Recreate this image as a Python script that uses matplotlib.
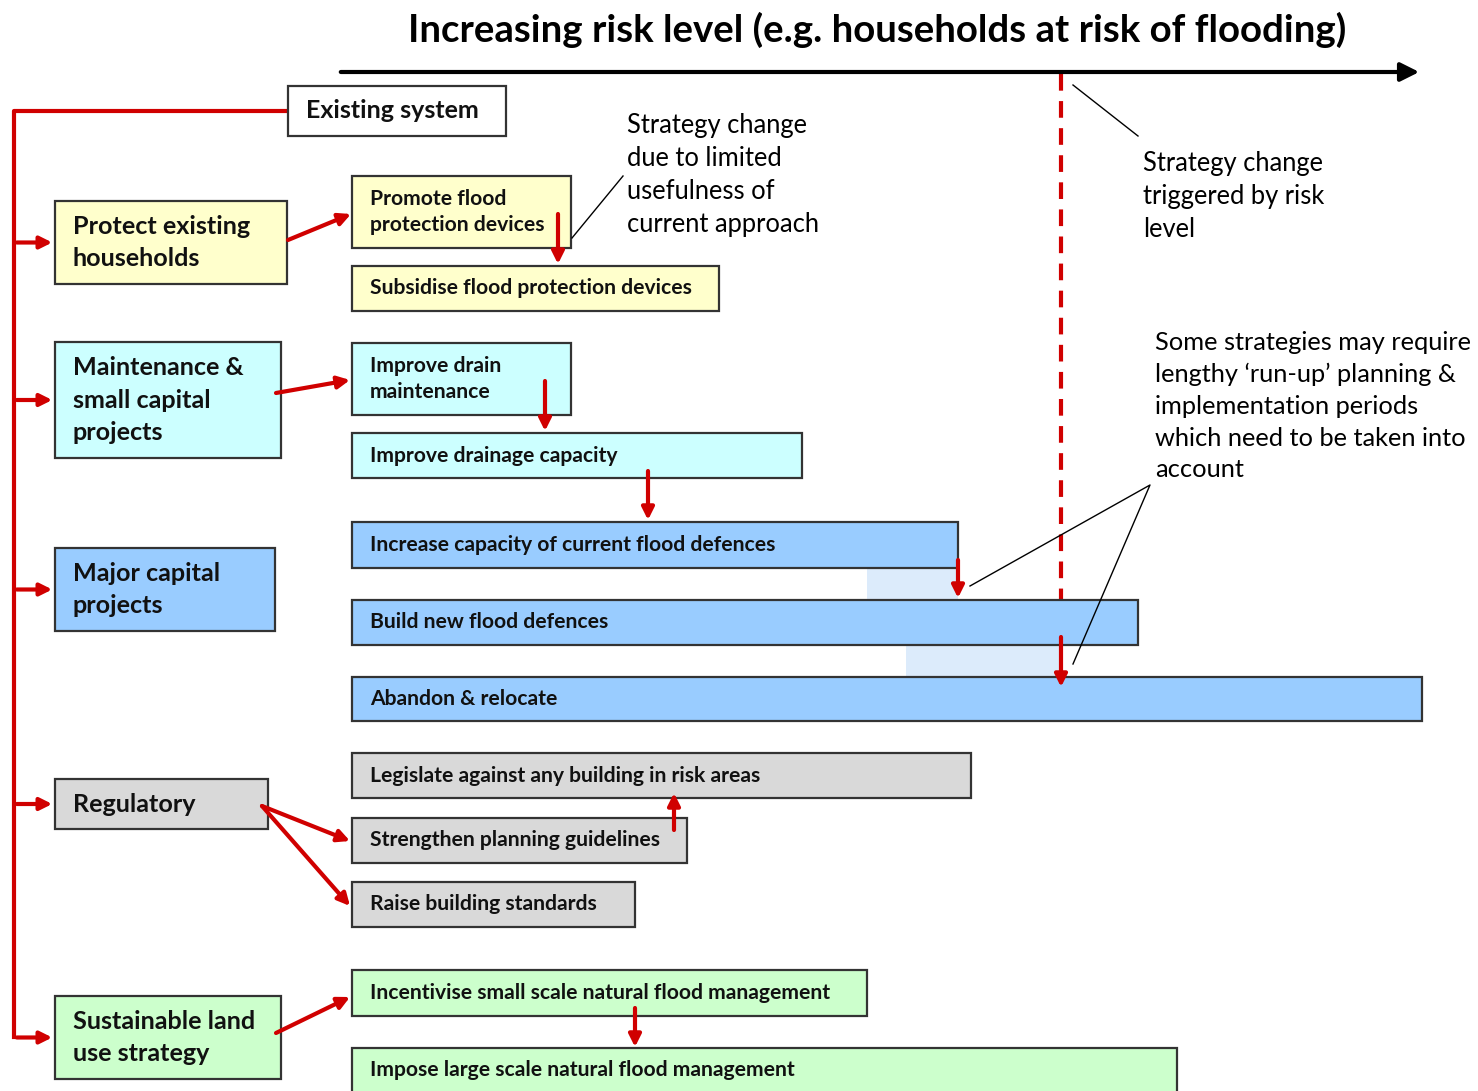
import matplotlib.pyplot as plt
from matplotlib.patches import Rectangle

plt.rcParams['font.family'] = ['Lato', 'DejaVu Sans']

W, H = 1478, 1091

# categories (left column) and their options
groups = ["Protect existing\nhouseholds", "Maintenance &\nsmall capital\nprojects",
          "Major capital\nprojects", "Regulatory", "Sustainable land\nuse strategy"]
group_cols = ["#FFFFCC", "#CCFFFF", "#99CCFF", "#D9D9D9", "#CCFFCC"]
group_box = [(55, 201, 287, 284), (55, 342, 281, 458), (55, 548, 275, 631),
             (55, 779, 268, 829), (55, 996, 281, 1079)]

options = ["Promote flood\nprotection devices", "Subsidise flood protection devices",
           "Improve drain\nmaintenance", "Improve drainage capacity",
           "Increase capacity of current flood defences", "Build new flood defences",
           "Abandon & relocate",
           "Legislate against any building in risk areas", "Strengthen planning guidelines",
           "Raise building standards",
           "Incentivise small scale natural flood management",
           "Impose large scale natural flood management"]
option_grp = [0, 0, 1, 1, 2, 2, 2, 3, 3, 3, 4, 4]
option_box = [(352, 176, 571, 248), (352, 266, 719, 311), (352, 343, 571, 415),
              (352, 433, 802, 478), (352, 522, 958, 568), (352, 600, 1138, 645),
              (352, 677, 1422, 721), (352, 753, 971, 798), (352, 818, 687, 863),
              (352, 882, 635, 927), (352, 970, 867, 1016), (352, 1048, 1100, 1100)]
option_box[-1] = (352, 1048, 1177, 1100)

# run-up periods (pale bands)
runup = [(867, 568, 958, 600), (906, 645, 1060, 677)]

# red arrows between boxes
arrows = [((288, 240), (351, 214)), ((558, 214), (558, 264)),
          ((276, 393), (350, 380)), ((545, 381), (545, 431)),
          ((648, 471), (648, 520)), ((958, 560), (958, 598)),
          ((1061, 637), (1061, 687)),
          ((262, 806), (350, 841)), ((262, 806), (350, 906)),
          ((674, 830), (674, 793)),
          ((276, 1033), (350, 997)), ((635, 1008), (635, 1047))]

fig = plt.figure(figsize=(W / 100, H / 100), dpi=100)
ax = fig.add_axes([0, 0, 1, 1])
ax.set_xlim(0, W)
ax.set_ylim(H, 0)
ax.axis('off')

def box(b, fc, txt, size, pad=18, ls=1.3):
    x0, y0, x1, y1 = b
    ax.add_patch(Rectangle((x0, y0), x1 - x0, y1 - y0, fc=fc, ec="#333333", lw=1.6, zorder=2))
    yc = (y0 + min(y1, H)) / 2
    ax.text(x0 + pad, yc, txt, fontsize=size, fontweight='bold', va='center', ha='left',
            linespacing=ls, zorder=3, color="#111111")

for x0, y0, x1, y1 in runup:
    ax.add_patch(Rectangle((x0, y0), x1 - x0, y1 - y0, fc="#DCEBFB", ec='none', zorder=1))

for g, c, b in zip(groups, group_cols, group_box):
    box(b, c, g, 18.1, ls=1.48)
for o, gi, b in zip(options, option_grp, option_box):
    box(b, group_cols[gi], o, 15.2, ls=1.43)

box((288, 86, 506, 136), "white", "Existing system", 18)

# title and risk axis
ax.text(877, 30, "Increasing risk level (e.g. households at risk of flooding)",
        fontsize=27.6, fontweight='bold', ha='center', va='center')
ax.annotate("", xy=(1422, 72), xytext=(338, 72),
            arrowprops=dict(arrowstyle='-|>', color='black', lw=3, mutation_scale=28))

# risk threshold
ax.plot([1061, 1061], [74, 600], color="#D00000", lw=3, ls=(0, (4, 2.5)), zorder=1)

# red tree on the left
red = "#D00000"
ax.plot([14, 14, 288], [1037, 111, 111], color=red, lw=3, zorder=1)
for b in group_box:
    yc = (b[1] + b[3]) / 2
    ax.annotate("", xy=(b[0], yc), xytext=(14, yc),
                arrowprops=dict(arrowstyle='-|>', color=red, lw=3, mutation_scale=18))

for (x0, y0), (x1, y1) in arrows:
    ax.annotate("", xy=(x1, y1), xytext=(x0, y0),
                arrowprops=dict(arrowstyle='-|>', color=red, lw=3, mutation_scale=18,
                                shrinkA=0, shrinkB=0), zorder=4)

# notes
ax.plot([572, 623], [238, 176], color='black', lw=1)
ax.plot([1073, 1138], [85, 136], color='black', lw=1)
ax.plot([970, 1150, 1073], [586, 485, 664], color='black', lw=1)

ax.text(627, 113, "Strategy change\ndue to limited\nusefulness of\ncurrent approach",
        fontsize=18.4, va='top', ha='left', linespacing=1.4)
ax.text(1143, 151, "Strategy change\ntriggered by risk\nlevel",
        fontsize=18.4, va='top', ha='left', linespacing=1.4)
ax.text(1155, 331, "Some strategies may require\nlengthy \u2018run-up\u2019 planning &\n"
        "implementation periods\nwhich need to be taken into\naccount",
        fontsize=18.3, va='top', ha='left', linespacing=1.46)

fig.savefig("out.png", dpi=100)
